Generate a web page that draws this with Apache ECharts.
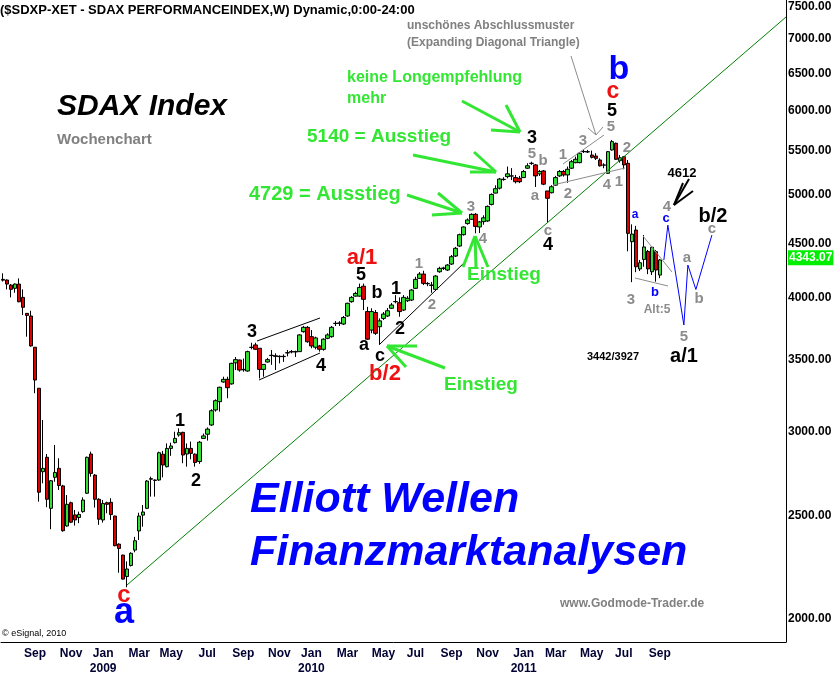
<!DOCTYPE html>
<html><head><meta charset="utf-8">
<script src="https://cdn.jsdelivr.net/npm/echarts@6/dist/echarts.min.js"></script>
<style>html,body{margin:0;padding:0;background:#fff}#c{width:837px;height:674px}</style>
</head><body><div id="c"></div><script>
// ---- data (weekly SDAX) ----
const firstWeek = [2008, 6, 11];   // Friday 2008-07-11 (month 0-based)
const weekCount = 196;
const opens = [4165,4159,4114,4085,4123,4006,3870,3848,3597,3292,2749,2836,2540,2716,2769,2666,2445,2571,2504,2490,2522,2624,2856,2729,2590,2477,2571,2573,2498,2351,2296,2192,2245,2321,2419,2503,2540,2708,2700,2700,2855,2779,2891,2927,2976,2993,2856,2891,2855,2810,2954,2981,3041,3141,3198,3337,3356,3323,3478,3499,3429,3417,3597,3615,3589,3429,3484,3535,3531,3527,3527,3555,3563,3563,3563,3720,3755,3680,3597,3607,3581,3667,3680,3788,3788,3782,3848,3969,4017,4017,4104,3885,3733,3877,3760,3828,3848,3913,3969,3960,3898,3977,3983,4085,4174,4213,4129,4114,4076,4234,4265,4250,4305,4380,4476,4587,4698,4742,4793,4664,4718,4725,4897,5018,5072,5170,5200,5208,5189,5181,5189,5295,5352,5333,5231,5264,5041,5022,5105,5208,5258,5219,5295,5359,5359,5488,5488,5448,5436,5390,5333,5237,5508,5588,5382,5429,5352,4518,4633,4260,4348,4424,4234,4422,4204];
const closes = [4158,4123,4076,4123,3968,3921,3853,3607,3351,2630,2769,2590,2696,2745,2668,2420,2562,2465,2477,2507,2586,2836,2739,2590,2481,2567,2562,2506,2343,2329,2180,2228,2305,2368,2498,2520,2694,2705,2698,2864,2789,2891,2906,2954,2991,2850,2891,2860,2804,2930,2970,3014,3136,3205,3299,3356,3296,3474,3502,3424,3426,3563,3595,3581,3429,3466,3502,3533,3527,3525,3525,3553,3561,3561,3694,3755,3640,3607,3670,3581,3660,3694,3755,3786,3790,3836,3955,4006,4040,4093,3989,3660,3885,3707,3808,3864,3892,3941,3970,3885,4006,3998,4070,4165,4213,4129,4126,4111,4195,4265,4268,4296,4374,4454,4587,4664,4735,4793,4670,4715,4757,4876,5004,5066,5173,5167,5231,5206,5143,5143,5258,5323,5350,5208,5258,5116,4962,5087,5189,5258,5219,5283,5370,5398,5469,5490,5484,5421,5409,5323,5330,5488,5608,5398,5416,5333,4600,4593,4280,4317,4467,4260,4464,4250,4343.07];
const lows = [4145,4076,4006,4046,3965,3856,3680,3602,3257,2577,2681,2546,2428,2690,2643,2415,2441,2460,2447,2460,2516,2620,2720,2544,2451,2463,2513,2477,2340,2210,2178,2142,2240,2310,2372,2441,2536,2605,2605,2696,2716,2775,2845,2922,2965,2800,2779,2824,2779,2796,2950,2940,3034,3130,3130,3332,3222,3318,3424,3412,3412,3412,3581,3576,3363,3375,3480,3463,3424,3474,3485,3527,3550,3522,3561,3712,3632,3589,3581,3563,3570,3660,3672,3766,3766,3774,3842,3960,4011,4011,3898,3654,3707,3694,3615,3815,3840,3907,3955,3842,3890,3966,3974,4079,4168,4114,4104,4046,4064,4225,4250,4241,4296,4371,4467,4578,4687,4735,4600,4603,4687,4715,4886,5015,5058,5154,5181,5162,5124,5128,5185,5286,5333,5085,5208,5105,4712,5015,5098,5196,5200,5131,5286,5352,5352,5472,5472,5409,5390,5314,5295,5231,5500,5390,5359,5283,4425,4140,4230,4241,4280,4212,4204,4144,4176];
const highs = [4220,4165,4123,4129,4174,4076,3872,3892,3597,3292,3074,2856,2700,2912,2830,2672,2614,2577,2531,2522,2601,2840,2871,2735,2596,2586,2577,2596,2500,2355,2298,2265,2310,2388,2516,2558,2700,2720,2703,2871,2875,2922,2927,2997,3019,2997,2922,2934,2860,2938,2985,3025,3146,3214,3303,3375,3375,3478,3522,3502,3510,3570,3632,3632,3589,3468,3515,3576,3550,3535,3542,3576,3576,3570,3700,3766,3766,3733,3680,3615,3667,3707,3766,3806,3806,3848,3960,4017,4055,4127,4127,3925,3913,3898,3828,3881,3915,3958,4026,4006,4026,4017,4079,4188,4231,4243,4140,4142,4204,4280,4280,4305,4390,4467,4597,4670,4751,4803,4806,4725,4783,4886,5015,5103,5185,5193,5314,5296,5219,5208,5275,5352,5370,5344,5275,5275,5041,5105,5208,5275,5275,5314,5390,5429,5484,5508,5508,5500,5469,5409,5352,5496,5628,5596,5448,5436,5390,4690,4675,4343,4583,4438,4470,4438,4352];
// projected wave path (blue): week index, value
const projWeeks = [165, 166, 170, 171, 173, 177];
const projValues = [4343, 4683, 3774, 4296, 4075, 4583];
const yTickValues = [2000,2500,3000,3500,4000,4500,5000,5500,6000,6500,7000,7500];
const monthNames = ['Jan','Feb','Mar','Apr','May','Jun','Jul','Aug','Sep','Oct','Nov','Dec'];
const lastClose = 4343.07;
const yMin = 1903, yMax = 7615;

// ---- categories ----
const cats = [], catMonth = [], catYear = [];
for (let i = 0; i < weekCount; i++) {
  const d = new Date(Date.UTC(firstWeek[0], firstWeek[1], firstWeek[2] + 7 * i));
  cats.push(d.toISOString().slice(0, 10));
  catMonth.push(d.getUTCMonth()); catYear.push(d.getUTCFullYear());
}
const showLabel = cats.map((c, i) => i > 0 && i < opens.length && catMonth[i] % 2 === 0 && catMonth[i - 1] !== catMonth[i]);

const L = Math.log10;
const candleData = opens.map((o, i) => [L(o), L(closes[i]), L(lows[i]), L(highs[i])]);
const projData = projWeeks.map((w, i) => [w, L(projValues[i])]);

// ---- annotations (pixel layout) ----
const G = '#33e633', GR = '#8c8c8c', RD = '#ee1111', BL = '#0000ff', K = '#000';
const F = 'Arial, "Liberation Sans", sans-serif';
const texts = [
  ['($SDXP-XET - SDAX PERFORMANCEINDEX,W) Dynamic,0:00-24:00', 0, 10, 'bold 13px', K, 'left'],
  ['unschönes Abschlussmuster', 407, 26, 'bold 12px', '#808080', 'left'],
  ['(Expanding Diagonal Triangle)', 407, 43, 'bold 12px', '#808080', 'left'],
  ['SDAX Index', 57, 107, 'italic bold 30px', K, 'left'],
  ['Wochenchart', 57, 140, 'bold 15px', '#808080', 'left'],
  ['keine Longempfehlung', 347, 78, 'bold 16px', G, 'left'],
  ['mehr', 347, 99, 'bold 16px', G, 'left'],
  ['5140 = Ausstieg', 307, 137, 'bold 19px', G, 'left'],
  ['4729 = Ausstieg', 249, 194, 'bold 20px', G, 'left'],
  ['Einstieg', 467, 275, 'bold 19px', G, 'left'],
  ['Einstieg', 444, 385, 'bold 19px', G, 'left'],
  ['Elliott Wellen', 250, 500, 'italic bold 43px', BL, 'left'],
  ['Finanzmarktanalysen', 250, 553, 'italic bold 43px', BL, 'left'],
  ['www.Godmode-Trader.de', 560, 604, 'bold 12px', '#808080', 'left'],
  ['\u00A9 eSignal, 2010', 2, 634, '9px', K, 'left'],
  ['3442/3927', 587, 357, 'bold 11px', K, 'left'],
  ['4612', 682, 173, 'bold 13px', K, 'center'],
  ['c', 124, 595, 'bold 24px', RD, 'center'],
  ['a', 124, 613, 'bold 36px', BL, 'center'],
  ['1', 180, 421, 'bold 18px', K, 'center'],
  ['2', 196, 481, 'bold 18px', K, 'center'],
  ['3', 252, 332, 'bold 18px', K, 'center'],
  ['4', 321, 366, 'bold 18px', K, 'center'],
  ['a/1', 362, 258, 'bold 22px', RD, 'center'],
  ['5', 361, 275, 'bold 18px', K, 'center'],
  ['b', 377, 293, 'bold 18px', K, 'center'],
  ['1', 396, 289, 'bold 18px', K, 'center'],
  ['a', 364, 345, 'bold 18px', K, 'center'],
  ['c', 380, 356, 'bold 18px', K, 'center'],
  ['2', 400, 329, 'bold 18px', K, 'center'],
  ['b/2', 385, 374, 'bold 22px', RD, 'center'],
  ['1', 419, 264, 'bold 15px', GR, 'center'],
  ['2', 432, 305, 'bold 15px', GR, 'center'],
  ['3', 471, 207, 'bold 15px', GR, 'center'],
  ['4', 483, 239, 'bold 15px', GR, 'center'],
  ['3', 532, 138, 'bold 18px', K, 'center'],
  ['5', 532, 154, 'bold 15px', GR, 'center'],
  ['b', 543, 161, 'bold 15px', GR, 'center'],
  ['a', 535, 196, 'bold 15px', GR, 'center'],
  ['c', 548, 231, 'bold 15px', GR, 'center'],
  ['4', 548, 245, 'bold 18px', K, 'center'],
  ['1', 563, 155, 'bold 15px', GR, 'center'],
  ['2', 568, 194, 'bold 15px', GR, 'center'],
  ['3', 583, 141, 'bold 15px', GR, 'center'],
  ['4', 607, 185, 'bold 15px', GR, 'center'],
  ['1', 619, 182, 'bold 15px', GR, 'center'],
  ['5', 611, 127, 'bold 15px', GR, 'center'],
  ['2', 627, 148, 'bold 15px', GR, 'center'],
  ['5', 612, 111, 'bold 18px', K, 'center'],
  ['c', 613, 92, 'bold 23px', RD, 'center'],
  ['b', 619, 70, 'bold 34px', BL, 'center'],
  ['a', 635, 215, 'bold 12px', BL, 'center'],
  ['c', 666, 218, 'bold 13px', BL, 'center'],
  ['4', 667, 207, 'bold 15px', GR, 'center'],
  ['3', 631, 300, 'bold 15px', GR, 'center'],
  ['b', 655, 292, 'bold 13px', BL, 'center'],
  ['Alt:5', 657, 310, 'bold 12px', GR, 'center'],
  ['5', 684, 337, 'bold 15px', GR, 'center'],
  ['a/1', 684, 356, 'bold 20px', K, 'center'],
  ['a', 687, 258, 'bold 15px', GR, 'center'],
  ['b', 699, 299, 'bold 15px', GR, 'center'],
  ['b/2', 713, 216, 'bold 20px', K, 'center'],
  ['c', 712, 229, 'bold 15px', GR, 'center']
];
const segs = [
  // [x1,y1,x2,y2,color,width]
  [127, 585, 786, 17, '#008000', 1],
  [380, 344, 466, 261, K, 1],
  [257, 341, 320, 318, K, 1],
  [259, 380, 320, 353, K, 1],
  [563, 164, 604, 135, GR, 1],
  [553, 185, 625, 168, GR, 1],
  [643, 236, 672, 272, GR, 1],
  [635, 278, 668, 286, GR, 1],
  [571, 56, 596, 135, GR, 1], [596, 135, 588, 128, GR, 1], [596, 135, 603, 127, GR, 1],
  [689, 179, 674, 205, K, 2], [693, 191, 674, 205, K, 2], [683, 183, 674, 205, K, 2],
  // green arrows
  [462, 101, 520, 132, G, 3], [520, 132, 506, 105, G, 3], [520, 132, 491, 130, G, 3],
  [413, 155, 496, 172, G, 3], [496, 172, 474, 152, G, 3], [496, 172, 470, 172, G, 3],
  [407, 195, 462, 213, G, 3], [462, 213, 438, 193, G, 3], [462, 213, 432, 215, G, 3],
  [475, 236, 463, 267, G, 3], [475, 236, 476, 267, G, 3], [475, 236, 488, 267, G, 3],
  [387, 346, 445, 368, G, 3], [387, 346, 417, 346, G, 3], [387, 346, 406, 367, G, 3]
];
const graphics = [];
segs.forEach(s => graphics.push({type: 'line', silent: true, z: 50,
  shape: {x1: s[0], y1: s[1], x2: s[2], y2: s[3]}, style: {stroke: s[4], lineWidth: s[5]}}));
texts.forEach(t => graphics.push({type: 'text', silent: true, z: 60, x: t[1], y: t[2],
  style: {text: t[0], font: t[3] + ' ' + F, fill: t[4], align: t[5], verticalAlign: 'middle'}}));

const chart = echarts.init(document.getElementById('c'), null, {renderer: 'canvas'});
chart.setOption({
  animation: false,
  backgroundColor: '#fff',
  grid: {left: 1, right: 51, top: 0, bottom: 32, containLabel: false, outerBoundsMode: 'none'},
  xAxis: {
    type: 'category', data: cats, boundaryGap: true,
    axisLine: {show: true, lineStyle: {color: '#000', width: 1}},
    axisTick: {show: false}, splitLine: {show: false},
    axisLabel: {
      interval: (i) => showLabel[i],
      formatter: (v, i) => {
        const m = catMonth[i];
        return m === 0 ? monthNames[m] + '\n' + catYear[i] : monthNames[m];
      },
      color: '#000033', fontWeight: 'bold', fontSize: 12, fontFamily: F, margin: 4, lineHeight: 15,
      hideOverlap: false
    }
  },
  yAxis: {
    type: 'value', position: 'right', min: L(yMin), max: L(yMax),
    axisLine: {show: true, lineStyle: {color: '#000', width: 1}},
    axisTick: {show: false}, splitLine: {show: false},
    axisLabel: {
      customValues: yTickValues.map(L),
      formatter: v => Math.round(Math.pow(10, v)).toFixed(2),
      color: '#000', fontWeight: 'bold', fontSize: 12, fontFamily: F, margin: 2
    }
  },
  series: [{
    type: 'candlestick', data: candleData, barWidth: 4,
    itemStyle: {color: '#33dd33', color0: '#dd0000', borderColor: '#000', borderColor0: '#000', borderColorDoji: '#000', borderWidth: 1},
    markLine: {
      silent: true, symbol: 'none', animation: false,
      lineStyle: {color: 'transparent', width: 0},
      label: {show: true, position: 'end', formatter: lastClose.toFixed(2), backgroundColor: '#00ee00',
        color: '#fff', fontWeight: 'bold', fontSize: 12, fontFamily: F, padding: [2, 1, 1, 1], distance: 2},
      data: [{yAxis: L(lastClose)}]
    }
  }, {
    type: 'line', data: projData, symbol: 'none', lineStyle: {color: '#0000ff', width: 1}, z: 5
  }],
  graphic: graphics
});
</script></body></html>
